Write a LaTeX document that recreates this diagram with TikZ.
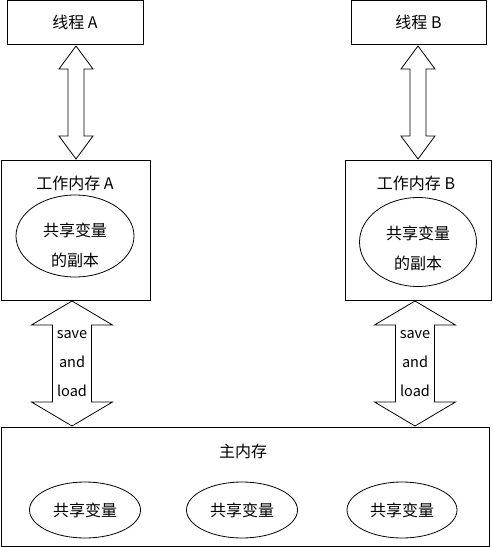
\documentclass[tikz,border=0pt]{standalone}
\usepackage{fontspec}
\newfontfamily\cjk{Noto Sans CJK SC}
\usetikzlibrary{shapes.geometric}
\tikzset{
  box/.style={draw, line width=0.8pt, rectangle, inner sep=0pt},
  oval/.style={draw, line width=0.8pt, ellipse, inner sep=0pt, font=\cjk\fontsize{16}{30}\selectfont},
  lbl/.style={font=\cjk\fontsize{16}{30}\selectfont, inner sep=0pt, align=center},
  small/.style={font=\cjk\fontsize{14.5}{29}\selectfont, inner sep=0pt, align=center},
  dbl/.style={draw, line width=0.8pt, fill=white, line join=miter}
}
% #1 centre x, #2 top tip y, #3 bottom tip y, #4 half head, #5 half shaft, #6 head length
\newcommand\mydblarrow[6]{%
  \draw[dbl] (#1,#2) -- (#1+#4,#2+#6) -- (#1+#5,#2+#6) -- (#1+#5,#3-#6) -- (#1+#4,#3-#6)
    -- (#1,#3) -- (#1-#4,#3-#6) -- (#1-#5,#3-#6) -- (#1-#5,#2+#6) -- (#1-#4,#2+#6) -- cycle;}
\begin{document}
\begin{tikzpicture}[x=1pt,y=-1pt]
\useasboundingbox (0,0) rectangle (493,547);

% thread boxes
\node[box, minimum width=136pt, minimum height=43.5pt] (thA) at (75,22.3) {};
\node[lbl] (thAt) at (75,22) {线程 A};
\node[box, minimum width=135pt, minimum height=43.5pt] (thB) at (418.5,22.3) {};
\node[lbl] (thBt) at (418.5,22) {线程 B};

% working memory boxes
\node[box, minimum width=149pt, minimum height=140pt] (wmA) at (75.5,230) {};
\node[lbl] (wmAt) at (75,183) {工作内存 A};
\node[oval, minimum width=118pt, minimum height=82pt] (eA) at (75,236) {};
\node[lbl] (eAt) at (75,245) {共享变量\\的副本};

\node[box, minimum width=146pt, minimum height=140pt] (wmB) at (418,230) {};
\node[lbl] (wmBt) at (416,183) {工作内存 B};
\node[oval, minimum width=117pt, minimum height=89pt] (eB) at (418,242) {};
\node[lbl] (eBt) at (418,248) {共享变量\\的副本};

% main memory
\node[box, minimum width=488pt, minimum height=119pt] (mm) at (245,486.5) {};
\node[lbl] (mmt) at (243,451) {主内存};
\node[oval, minimum width=111pt, minimum height=56pt] (s1) at (85,510) {共享变量};
\node[oval, minimum width=111pt, minimum height=56pt] (s2) at (242,510) {共享变量};
\node[oval, minimum width=110pt, minimum height=56pt] (s3) at (402,510) {共享变量};

% double arrows thread <-> working memory
\mydblarrow{76}{46}{159}{17}{8}{23}
\mydblarrow{418}{46}{159}{17}{8}{23}

% double arrows working memory <-> main memory
\mydblarrow{72}{301}{426}{40.5}{19.5}{24}
\mydblarrow{415}{301}{426}{40.5}{19.5}{24}
\node[small] (slA) at (72,364) {save\\and\\load};
\node[small] (slB) at (415,364) {save\\and\\load};
\end{tikzpicture}
\end{document}
